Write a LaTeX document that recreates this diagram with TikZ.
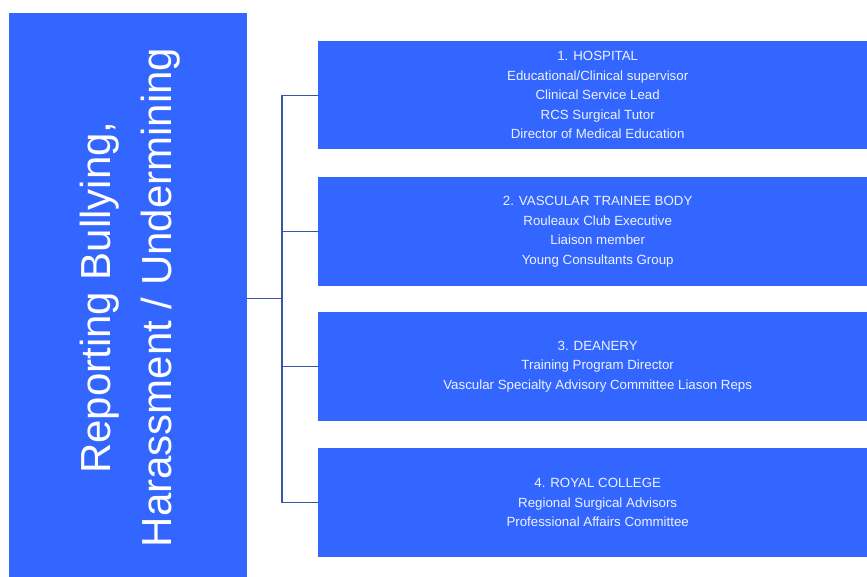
\documentclass[tikz,border=0pt]{standalone}
\usepackage{fontspec}
\setmainfont{Liberation Sans}
\definecolor{boxblue}{HTML}{3366FF}
\definecolor{linkblue}{HTML}{3557A8}
\definecolor{txtlight}{HTML}{EEF2FF}
\begin{document}
\begin{tikzpicture}[x=1pt,y=-1pt,
  catbox/.style={fill=boxblue, draw=none, minimum width=559pt, minimum height=108pt,
    inner sep=0pt, anchor=north west, align=center, text=txtlight,
    font=\fontsize{13.3}{19.5}\selectfont},
  link/.style={draw=linkblue, line width=1.2pt}]
\useasboundingbox (0,0) rectangle (867,577);
\node[fill=boxblue, minimum width=238pt, minimum height=564pt, inner sep=0pt, anchor=north west] (left) at (9,13) {};
\node[rotate=90, text=white, inner sep=0pt, align=center, font=\fontsize{42}{61}\selectfont] (title) at (130.5,297.5) {Reporting Bullying,\\Harassment / Undermining};
\node[catbox] (b1) at (318,41) {1. HOSPITAL\\Educational/Clinical supervisor\\Clinical Service Lead\\RCS Surgical Tutor\\Director of Medical Education};
\node[catbox, minimum height=109pt] (b2) at (318,177) {2. VASCULAR TRAINEE BODY\\Rouleaux Club Executive\\Liaison member\\Young Consultants Group};
\node[catbox, minimum height=109pt] (b3) at (318,312) {3. DEANERY\\Training Program Director\\Vascular Specialty Advisory Committee Liason Reps};
\node[catbox, minimum height=109pt] (b4) at (318,448) {4. ROYAL COLLEGE\\Regional Surgical Advisors\\Professional Affairs Committee};
\coordinate (hub) at (282,298.5);
\draw[link] (left.east |- hub) -- (hub);
\draw[link] (b1.west) -- (b1.west -| hub) -- (b4.west -| hub) -- (b4.west);
\draw[link] (b2.west) -- (b2.west -| hub);
\draw[link] (b3.west) -- (b3.west -| hub);
\end{tikzpicture}
\end{document}
